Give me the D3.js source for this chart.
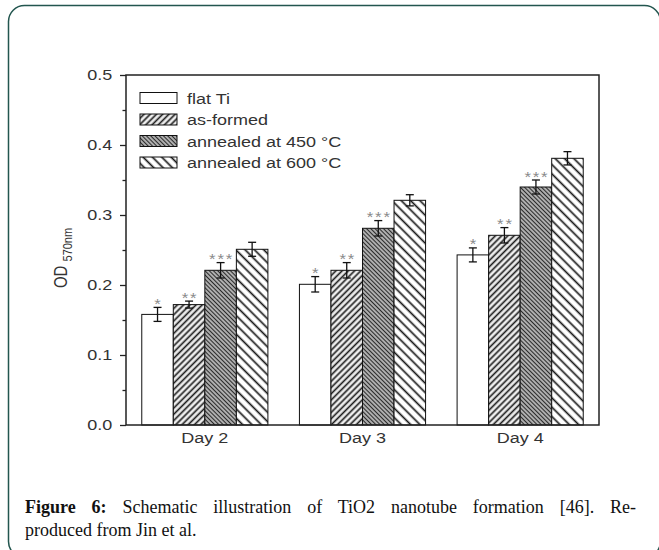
<!DOCTYPE html>
<html>
<head>
<meta charset="utf-8">
<script src="https://cdn.jsdelivr.net/npm/d3@7"></script>
<style>
  html, body { margin: 0; padding: 0; background: #fff; }
  svg { display: block; }
</style>
</head>
<body>
<svg id="chart" width="659" height="550"></svg>
<script>
// ---- data ----
const categories = ["Day 2", "Day 3", "Day 4"];
const seriesNames = ["flat Ti", "as-formed", "annealed at 450 °C", "annealed at 600 °C"];
const flatTi      = [0.158, 0.201, 0.243];
const asFormed    = [0.172, 0.221, 0.271];
const annealed450 = [0.221, 0.281, 0.340];
const annealed600 = [0.251, 0.321, 0.381];
const flatTiErr      = [0.010, 0.011, 0.010];
const asFormedErr    = [0.005, 0.011, 0.011];
const annealed450Err = [0.011, 0.011, 0.010];
const annealed600Err = [0.010, 0.008, 0.0095];
const significance = ["*", "**", "***", ""];
const yTicks = [0.0, 0.1, 0.2, 0.3, 0.4, 0.5];
const yMinorTicks = [0.05, 0.15, 0.25, 0.35, 0.45];
const captionBold = "Figure 6:";
const captionLine1 = " Schematic illustration of TiO2 nanotube formation [46]. Re-";
const captionLine2 = "produced from Jin et al.";

const values = [flatTi, asFormed, annealed450, annealed600];
const errors = [flatTiErr, asFormedErr, annealed450Err, annealed600Err];
const fills = ["#ffffff", "url(#hatchAsFormed)", "url(#hatch450)", "url(#hatch600)"];

const svg = d3.select("#chart");
const SX = 1.2; // horizontal stretch of the original chart's text

// frame
svg.append("rect")
  .attr("x", 8.5).attr("y", 5.5).attr("width", 652).attr("height", 552)
  .attr("rx", 16).attr("ry", 16)
  .attr("fill", "none").attr("stroke", "#23564f").attr("stroke-width", 1.5);

// patterns
const defs = svg.append("defs");
function hatch(id, spacing, angle, sw, color, bg) {
  const p = defs.append("pattern").attr("id", id)
    .attr("patternUnits", "userSpaceOnUse")
    .attr("width", spacing).attr("height", spacing)
    .attr("patternTransform", `rotate(${angle})`);
  p.append("rect").attr("width", spacing).attr("height", spacing).attr("fill", bg);
  p.append("line").attr("x1", spacing / 2).attr("x2", spacing / 2)
    .attr("y1", 0).attr("y2", spacing)
    .attr("stroke", color).attr("stroke-width", sw);
}
hatch("hatchAsFormed", 4.4, 45, 1.6, "#1a1a1a", "#eeeeee");
hatch("hatch450", 3.0, -45, 1.2, "#2a2a2a", "#bdbdbd");
hatch("hatch600", 6.6, -45, 1.7, "#1a1a1a", "#ffffff");

const L = 126, R = 599, T = 75, B = 425;
const x0 = d3.scaleBand().domain(categories).range([L, R]).paddingInner(0.2).paddingOuter(0.1);
const x1 = d3.scaleBand().domain(d3.range(seriesNames.length)).range([0, x0.bandwidth()]);
const y = d3.scaleLinear().domain([0, 0.5]).range([B, T]);

const font = "'Liberation Sans', Arial, sans-serif";
const textColor = "#333";

// bars
const g = svg.append("g");
categories.forEach((c, ci) => {
  values.forEach((vals, si) => {
    const bx = x0(c) + x1(si);
    g.append("rect")
      .attr("x", bx).attr("y", y(vals[ci]))
      .attr("width", x1.bandwidth()).attr("height", y(0) - y(vals[ci]))
      .attr("fill", fills[si]).attr("stroke", "#111").attr("stroke-width", 1);
    const cx = bx + x1.bandwidth() / 2;
    const e = errors[si][ci];
    const top = y(vals[ci] + e), bot = y(vals[ci] - e);
    g.append("line").attr("x1", cx).attr("x2", cx).attr("y1", top).attr("y2", bot)
      .attr("stroke", "#111").attr("stroke-width", 1.3);
    [top, bot].forEach(yy => g.append("line")
      .attr("x1", cx - 4).attr("x2", cx + 4).attr("y1", yy).attr("y2", yy)
      .attr("stroke", "#111").attr("stroke-width", 1.3));
    if (significance[si]) {
      g.append("text")
        .attr("transform", `translate(${cx + 1},${top + 1.5}) scale(${SX},1)`)
        .attr("text-anchor", "middle")
        .attr("font-family", font).attr("font-size", 14)
        .attr("letter-spacing", 1.5)
        .attr("fill", "#8a8a8a").text(significance[si]);
    }
  });
});

// axes box
const axisColor = "#222";
svg.append("rect").attr("x", L).attr("y", T).attr("width", R - L).attr("height", B - T)
  .attr("fill", "none").attr("stroke", axisColor).attr("stroke-width", 1.5);

// y axis
const yAxis = d3.axisLeft(y).tickValues(yTicks).tickFormat(d3.format(".1f")).tickSize(6).tickPadding(5.5);
const ya = svg.append("g").attr("transform", `translate(${L},0)`).call(yAxis);
ya.select(".domain").remove();
ya.selectAll("line").attr("stroke", axisColor).attr("stroke-width", 1.3);
ya.selectAll("text").attr("font-family", font).attr("font-size", 15).attr("fill", textColor)
  .attr("transform", `scale(${SX},1)`);
const yMinor = d3.axisLeft(y).tickValues(yMinorTicks).tickSize(3.5).tickFormat("");
const ym = svg.append("g").attr("transform", `translate(${L},0)`).call(yMinor);
ym.select(".domain").remove();
ym.selectAll("line").attr("stroke", axisColor).attr("stroke-width", 1.3);

// x axis labels
const xAxis = d3.axisBottom(x0).tickSize(0).tickPadding(7);
const xa = svg.append("g").attr("transform", `translate(0,${B})`).call(xAxis);
xa.select(".domain").remove();
xa.selectAll("text").attr("font-family", font).attr("font-size", 15).attr("fill", textColor)
  .attr("transform", `scale(${SX},1)`);

// y title
const yt = svg.append("text")
  .attr("transform", "translate(67,258) rotate(-90) scale(1,1.2)")
  .attr("text-anchor", "middle")
  .attr("font-family", font).attr("font-size", 15).attr("fill", textColor);
yt.append("tspan").text("OD ");
yt.append("tspan").attr("font-size", 11).attr("dy", 4).text("570nm");

// legend
const leg = svg.append("g");
seriesNames.forEach((name, i) => {
  const ly = 98 + i * 21.5;
  leg.append("rect").attr("x", 140).attr("y", ly - 5.5).attr("width", 37).attr("height", 11)
    .attr("fill", fills[i]).attr("stroke", "#111").attr("stroke-width", 1);
  leg.append("text").attr("transform", `translate(187,${ly + 5.5}) scale(${SX},1)`)
    .attr("font-family", font).attr("font-size", 15).attr("fill", textColor).text(name);
});

// caption
const capFont = "'Liberation Serif', 'Times New Roman', serif";
const c1 = svg.append("text").attr("x", 25).attr("y", 513)
  .attr("font-family", capFont).attr("font-size", 18).attr("fill", "#111");
c1.append("tspan").attr("font-weight", "bold").text(captionBold);
c1.append("tspan").text(captionLine1);
const natural = c1.node().getComputedTextLength();
const nSpaces = (captionBold + captionLine1).split(" ").length - 1;
const target = 611;
c1.attr("word-spacing", Math.max(0, (target - natural) / nSpaces));
svg.append("text").attr("x", 25).attr("y", 536)
  .attr("font-family", capFont).attr("font-size", 18).attr("fill", "#111")
  .text(captionLine2);
</script>
</body>
</html>
